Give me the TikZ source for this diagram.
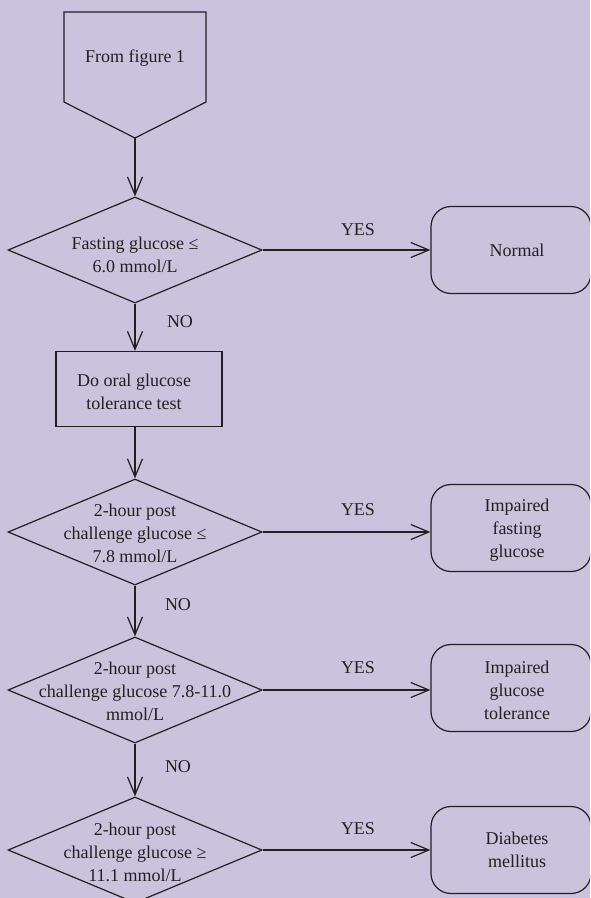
\documentclass[tikz,border=0pt]{standalone}
\usepackage{fontspec}
\setmainfont{Liberation Serif}
\usetikzlibrary{arrows.meta,shapes.geometric}
\definecolor{bgc}{RGB}{203,195,221}
\definecolor{ink}{RGB}{35,31,32}
\tikzset{
  every node/.style={text=ink},
  txt/.style={align=center,font=\fontsize{18}{23}\selectfont,inner sep=0pt},
  lbl/.style={font=\fontsize{18}{22}\selectfont,inner sep=0pt},
  dia/.style={shape=diamond,draw=ink,line width=1.2pt,minimum width=254pt,minimum height=106pt,inner sep=0pt},
  endbox/.style={draw=ink,line width=1.2pt,rounded corners=20pt,minimum width=160pt,minimum height=87pt,inner sep=0pt},
  procbox/.style={draw=ink,line width=1.2pt,minimum width=166pt,minimum height=75pt,inner sep=0pt},
  arr/.style={draw=ink,line width=1.2pt,-{Straight Barb[length=18pt,width=15pt,line width=1.2pt]}}
}
\begin{document}
\begin{tikzpicture}[x=1pt,y=-1pt]
\fill[bgc] (0,0) rectangle (590,898);
\useasboundingbox (0,0) rectangle (590,898);
\begin{scope}
\clip (0,0) rectangle (590,898);
% start pentagon
\draw[ink,line width=1.2pt] (64,12) -- (206,12) -- (206,102) -- (135,138) -- (64,102) -- cycle;
\node[txt] (p) at (135,58) {From figure 1};
\coordinate (ptip) at (135,138);
% decision 1
\node[dia] (d1) at (135,250) {};
\node[txt] (t1) at (135,255) {Fasting glucose ≤\\6.0 mmol/L};
\node[endbox] (b1) at (511,250) {};
\node[txt] (bt1) at (517,250) {Normal};
% process
\node[procbox] (r) at (139,389) {};
\node[txt] (rt) at (134,392) {Do oral glucose\\tolerance test};
% decision 2
\node[dia] (d2) at (135,532) {};
\node[txt] (t2) at (135,533) {2-hour post\\challenge glucose ≤\\7.8 mmol/L};
\node[endbox] (b2) at (511,528) {};
\node[txt] (bt2) at (517,530) {Impaired\\fasting\\glucose};
% decision 3
\node[dia] (d3) at (135,690) {};
\node[txt] (t3) at (135,691) {2-hour post\\challenge glucose 7.8-11.0\\mmol/L};
\node[endbox] (b3) at (511,688) {};
\node[txt] (bt3) at (517,690) {Impaired\\glucose\\tolerance};
% decision 4
\node[dia] (d4) at (135,850) {};
\node[txt] (t4) at (135,852) {2-hour post\\challenge glucose ≥\\11.1 mmol/L};
\node[endbox] (b4) at (511,850) {};
\node[txt] (bt4) at (517,850) {Diabetes\\mellitus};
% connectors
\draw[arr] (ptip) -- (d1.north);
\draw[arr] (d1.south) -- (d1.south |- r.north);
\draw[arr] (d1.south |- r.south) -- (d2.north);
\draw[arr] (d2.south) -- (d3.north);
\draw[arr] (d3.south) -- (d4.north);
\draw[arr] (d1.east) -- (d1.east -| b1.west);
\draw[arr] (d2.east) -- (d2.east -| b2.west);
\draw[arr] (d3.east) -- (d3.east -| b3.west);
\draw[arr] (d4.east) -- (d4.east -| b4.west);
% labels
\node[lbl] (y1) at (358,230) {YES};
\node[lbl] (y2) at (358,510) {YES};
\node[lbl] (y3) at (358,668) {YES};
\node[lbl] (y4) at (358,829) {YES};
\node[lbl] (n1) at (180,322) {NO};
\node[lbl] (n2) at (178,605) {NO};
\node[lbl] (n3) at (178,767) {NO};
\end{scope}
\end{tikzpicture}
\end{document}
